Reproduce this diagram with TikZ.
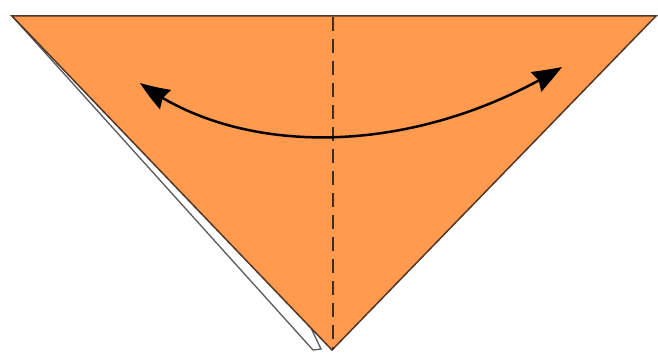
\documentclass[tikz,border=0pt]{standalone}
\usetikzlibrary{arrows.meta,bending}
\definecolor{paper}{RGB}{255,154,78}
\definecolor{edge}{RGB}{80,55,40}
\definecolor{flapedge}{RGB}{90,90,95}
\tikzset{
  paperedge/.style={draw=edge, line width=1.5pt, line join=miter},
  flap/.style={draw=flapedge, fill=white, line width=1.3pt},
  foldline/.style={draw=edge!80!black, line width=2pt, dash pattern=on 14pt off 8pt},
  movearrow/.style={draw=black, line width=2.5pt,
    {Stealth[length=30pt,width=22pt,inset=3pt,bend]}-{Stealth[length=30pt,width=22pt,inset=3pt,bend]}}
}
\begin{document}
\begin{tikzpicture}[x=1pt,y=-1pt]
\useasboundingbox (0,0) rectangle (658,353);
% white back flap
\coordinate (tl) at (12,16);
\coordinate (tr) at (656,16);
\coordinate (ap) at (332,350);
\coordinate (fa) at (313,350);
\coordinate (fb) at (321,349);
\path[flap] (tl) -- (fa) -- (fb) -- (250,200) -- cycle;
% orange front
\path[paperedge, fill=paper] (tl) -- (tr) -- (ap) -- cycle;
% valley fold line
\coordinate (ft) at (333,17);
\coordinate (fbm) at (333,349);
\draw[foldline] (ft) -- (fbm);
% arrow
\coordinate (al) at (140,83);
\coordinate (ar) at (562,67);
\draw[movearrow] (al) .. controls (240,158) and (414,158) .. (ar);
\end{tikzpicture}
\end{document}
